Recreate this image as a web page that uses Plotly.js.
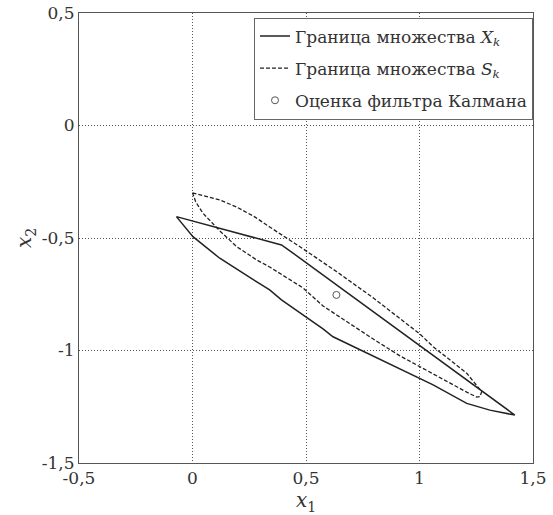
<!DOCTYPE html>
<html>
<head>
<meta charset="utf-8">
<script src="https://cdn.plot.ly/plotly-3.0.1.min.js"></script>
<style>html,body{margin:0;padding:0;background:#fff;}</style>
</head>
<body>
<div id="chart" style="width:553px;height:515px;"></div>
<script>
// Boundary of set X_k (solid polygon)
const xkX = [-0.071, 0.134, 0.340, 0.392, 0.429, 1.420, 1.310, 1.208, 1.060, 0.914, 0.796, 0.649, 0.619, 0.575, 0.392, 0.340, 0.120, 0.002];
const xkY = [-0.405, -0.461, -0.516, -0.531, -0.557, -1.287, -1.265, -1.235, -1.153, -1.082, -1.028, -0.953, -0.939, -0.904, -0.775, -0.731, -0.590, -0.494];

// Boundary of set S_k (dashed closed curve)
const skX = [0.000, 0.046, 0.120, 0.194, 0.274, 0.340, 0.429, 0.487, 0.634, 0.693, 0.796, 1.002, 1.060, 1.208, 1.244, 1.274, 1.266, 1.252, 1.208, 1.060, 0.914, 0.796, 0.649, 0.575, 0.487, 0.340, 0.282, 0.194, 0.120, 0.046, 0.014];
const skY = [-0.299, -0.310, -0.331, -0.362, -0.406, -0.451, -0.508, -0.548, -0.649, -0.691, -0.766, -0.927, -0.983, -1.101, -1.146, -1.183, -1.205, -1.207, -1.185, -1.105, -1.024, -0.949, -0.851, -0.802, -0.722, -0.629, -0.597, -0.538, -0.468, -0.390, -0.339];

// Kalman filter estimate
const kalmanX = [0.634];
const kalmanY = [-0.753];

// Tick values and labels
const xTickVals = [-0.5, 0, 0.5, 1, 1.5];
const xTickText = ['-0,5', '0', '0,5', '1', '1,5'];
const yTickVals = [0.5, 0, -0.5, -1, -1.5];
const yTickText = ['0,5', '0', '-0,5', '-1', '-1,5'];

const seriesNames = [
  'Граница множества <i>X</i><sub><i>k</i></sub>',
  'Граница множества <i>S</i><sub><i>k</i></sub>',
  'Оценка фильтра Калмана'
];

const closeLoop = a => a.concat([a[0]]);

const FONT = 'DejaVu Serif';
const traces = [
  {
    x: closeLoop(xkX), y: closeLoop(xkY), mode: 'lines', name: seriesNames[0], legendgroup: 'a',
    line: {color: '#222', width: 1.5}
  },
  {
    x: closeLoop(skX), y: closeLoop(skY), mode: 'lines', name: seriesNames[1], legendgroup: 'b',
    line: {color: '#222', width: 1.3, dash: '4px,2px'}
  },
  {
    x: kalmanX, y: kalmanY, mode: 'markers', name: seriesNames[2], legendgroup: 'c',
    marker: {symbol: 'circle-open', size: 7, color: '#555', line: {width: 1, color: '#555'}}
  }
];

const axisCommon = {
  showline: true, mirror: true, linecolor: '#555', linewidth: 1,
  showgrid: true, gridcolor: '#555', griddash: '1px,2px', gridwidth: 1,
  zeroline: false, ticks: '',
  tickmode: 'array',
  tickfont: {family: FONT, size: 17, color: '#333'}
};

const layout = {
  width: 553, height: 515,
  margin: {l: 79, r: 20, t: 13, b: 52},
  paper_bgcolor: '#fff', plot_bgcolor: '#fff',
  font: {family: FONT, color: '#333'},
  showlegend: true,
  xaxis: Object.assign({}, axisCommon, {
    range: [-0.5, 1.5], tickvals: xTickVals, ticktext: xTickText,
    title: {text: '<i>x</i><sub>1</sub>', font: {family: FONT, size: 20, color: '#333'}, standoff: 0}
  }),
  yaxis: Object.assign({}, axisCommon, {
    range: [-1.5, 0.5], tickvals: yTickVals, ticktext: yTickText,
    title: {text: '<i>x</i><sub>2</sub>', font: {family: FONT, size: 20, color: '#333'}, standoff: 4}
  }),
  legend: {
    x: 1, y: 0.99, xanchor: 'right', yanchor: 'top',
    bgcolor: '#fff', bordercolor: '#666', borderwidth: 1,
    font: {family: FONT, size: 17, color: '#333'},
    itemwidth: 30, tracegroupgap: 7
  }
};

Plotly.newPlot('chart', traces, layout, {displayModeBar: false, staticPlot: true});
</script>
</body>
</html>
